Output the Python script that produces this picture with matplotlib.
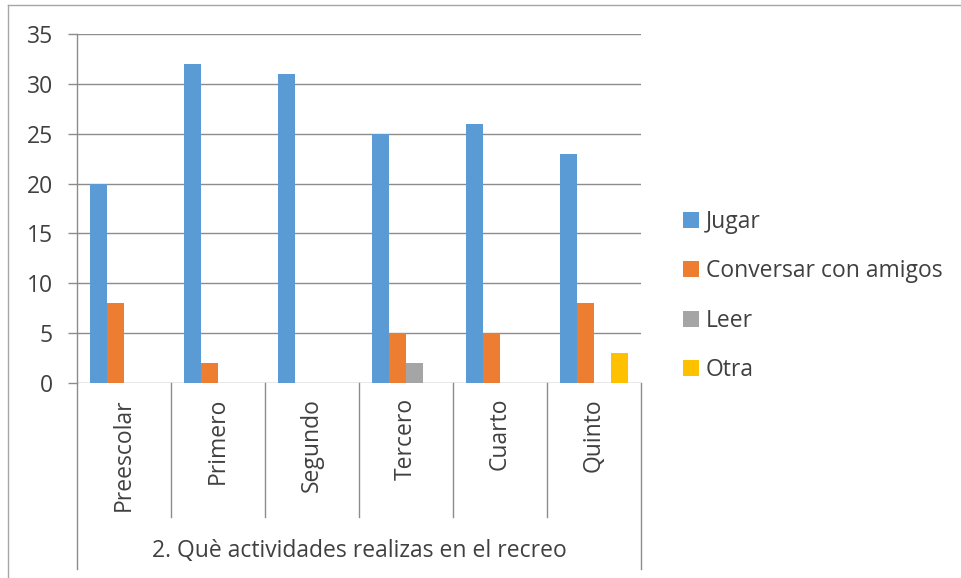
import matplotlib
matplotlib.use("Agg")
import matplotlib.pyplot as plt
from matplotlib.patches import Patch
from matplotlib.lines import Line2D
import numpy as np

categories = ["Preescolar", "Primero", "Segundo", "Tercero", "Cuarto", "Quinto"]
series_names = ["Jugar", "Conversar con amigos", "Leer", "Otra"]
jugar = [20, 32, 31, 25, 26, 23]
conversar = [8, 2, 0, 5, 5, 8]
leer = [0, 0, 0, 2, 0, 0]
otra = [0, 0, 0, 0, 0, 3]
colors = ["#5B9BD5", "#ED7D31", "#A5A5A5", "#FFC000"]
axis_title = "2. Què actividades realizas en el recreo"
yticks = [0, 5, 10, 15, 20, 25, 30, 35]

text_col = "#404040"
line_col = "#8c8c8c"
fs = 16.5
plt.rcParams["font.family"] = ["Open Sans", "DejaVu Sans"]

W, H = 961, 578
fig = plt.figure(figsize=(W / 100, H / 100), dpi=100)
ax = fig.add_axes([77 / W, 1 - 383 / H, (641 - 77) / W, (383 - 34) / H])

values = [jugar, conversar, leer, otra]
bar_w = 17 / 94
group_start = 13 / 94
x = np.arange(len(categories))
for k, (vals, c) in enumerate(zip(values, colors)):
    ax.bar(x + group_start + (k + 0.5) * bar_w, vals, width=bar_w, color=c,
           edgecolor="none", zorder=3)

ax.set_xlim(0, len(categories))
ax.set_ylim(0, 35)
ax.set_yticks(yticks)
ax.set_yticklabels([str(t) for t in yticks], fontsize=fs, color=text_col)
ax.tick_params(axis="y", direction="out", length=6.5, width=1, color=line_col, pad=11)
ax.set_xticks([])
ax.yaxis.grid(True, color=line_col, linewidth=1)
ax.set_axisbelow(True)
for s in ["top", "right", "bottom"]:
    ax.spines[s].set_visible(False)
ax.spines["left"].set_color(line_col)
ax.spines["left"].set_linewidth(1)

# category axis dividers and labels
trans = ax.get_xaxis_transform()
ph = 383 - 34
div_bottom = -(517 - 383) / ph
edge_bottom = -(569 - 383) / ph
for b in range(len(categories) + 1):
    yb = edge_bottom if b in (0, len(categories)) else div_bottom
    ax.add_line(Line2D([b, b], [0, yb], transform=trans, color=line_col,
                       linewidth=1, clip_on=False))
for i, cat in enumerate(categories):
    ax.text(i + 0.5, -(398 - 383) / ph, cat, transform=trans, rotation=90,
            ha="center", va="top", fontsize=fs, color=text_col)
ax.text(len(categories) / 2, -(551 - 383) / ph, axis_title, transform=trans,
        ha="center", va="center", fontsize=fs, color=text_col)

# legend
handles = [Patch(facecolor=c, edgecolor="none") for c in colors]
fig.legend(handles, series_names, loc="center left",
           bbox_to_anchor=(683 / W, 1 - 296 / H), frameon=False, fontsize=fs,
           labelcolor=text_col, handlelength=0.7, handleheight=0.7,
           handletextpad=0.3, labelspacing=1.1, borderpad=0, borderaxespad=0)

# chart area border (top and left edges visible)
fig.add_artist(Line2D([8 / W, 1], [1 - 5 / H, 1 - 5 / H], color="#a6a6a6", linewidth=1))
fig.add_artist(Line2D([8 / W, 8 / W], [0, 1 - 5 / H], color="#a6a6a6", linewidth=1))

fig.savefig("out.png", dpi=100)
